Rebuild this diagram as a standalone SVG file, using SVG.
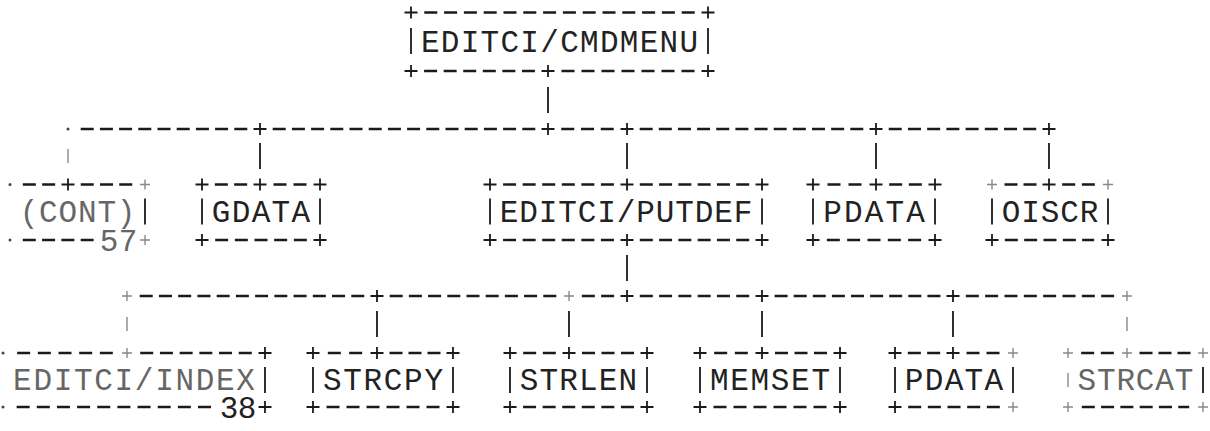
<svg xmlns="http://www.w3.org/2000/svg" width="1210" height="431" viewBox="0 0 1210 431">
<style>
.bg{fill:#fff}
.d{stroke:#1a1a1a;stroke-width:2.4;fill:none}
.p{stroke:#1a1a1a;stroke-width:1.8;fill:none}
.f{stroke:#888;stroke-width:1.4;fill:none}
.dot{fill:#444}
.t{font-family:"Liberation Mono","DejaVu Sans Mono",monospace;font-size:31px;fill:#222}
.tf{font-family:"Liberation Mono","DejaVu Sans Mono",monospace;font-size:31px;fill:#666}
</style>
<defs>
<path id="plus" class="p" d="M-6.5 0h13M0-6v12"/>
<path id="fplus" class="f" d="M-5 0h10M0-5v10"/>
<path id="bar" class="p" d="M0-13v26"/>
<path id="fbar" class="f" d="M0-7v14"/>
</defs>
<rect class="bg" width="1210" height="431"/>

<g id="node-cmdmenu">
<line class="d" x1="424.3" y1="12.5" x2="694.7" y2="12.5" stroke-dasharray="13 6.8"/>
<line class="d" x1="424.07" y1="71" x2="534.93" y2="71" stroke-dasharray="13 6.57"/>
<line class="d" x1="561.5" y1="71" x2="694.5" y2="71" stroke-dasharray="13 7"/>
<use href="#plus" x="411" y="12.5"/><use href="#plus" x="708" y="12.5"/>
<use href="#plus" x="411" y="71"/><use href="#plus" x="548" y="71"/><use href="#plus" x="708" y="71"/>
<use href="#bar" x="411" y="41"/><use href="#bar" x="708" y="41"/>
<text class="t" x="420.9" y="51.5" textLength="277.2" lengthAdjust="spacing">EDITCI/CMDMENU</text>
</g>

<g id="node-cont">
<circle class="dot" cx="10" cy="184.5" r="1.5"/>
<line class="d" x1="22.83" y1="184.5" x2="55.17" y2="184.5" stroke-dasharray="13 6.33"/>
<line class="d" x1="80.75" y1="184.5" x2="132.25" y2="184.5" stroke-dasharray="13 6.25"/>
<use href="#plus" x="68" y="184.5"/><use href="#fplus" x="145" y="184.5"/>
<use href="#bar" x="145" y="211.5"/>
<text class="tf" x="19.65" y="221.5" textLength="115.8" lengthAdjust="spacing">(CONT)</text>
<circle class="dot" cx="10" cy="240" r="1.5"/>
<line class="d" x1="22.79" y1="240" x2="93.66" y2="240" stroke-dasharray="13 6.29"/>
<text class="tf" x="109 128" y="250.5" text-anchor="middle">57</text>
<use href="#fplus" x="145" y="240"/>
</g>

<g id="node-gdata">
<line class="d" x1="214.83" y1="184.5" x2="247.17" y2="184.5" stroke-dasharray="13 6.33"/>
<line class="d" x1="273.5" y1="184.5" x2="306.5" y2="184.5" stroke-dasharray="13 7"/>
<use href="#plus" x="202" y="184.5"/><use href="#plus" x="260" y="184.5"/><use href="#plus" x="320" y="184.5"/>
<use href="#bar" x="202" y="211.5"/><use href="#bar" x="320" y="211.5"/>
<text class="t" x="211.8" y="221.5" textLength="98.3" lengthAdjust="spacing">GDATA</text>
<line class="d" x1="215.17" y1="240" x2="306.83" y2="240" stroke-dasharray="13 6.67"/>
<use href="#plus" x="202" y="240"/><use href="#plus" x="320" y="240"/>
</g>

<g id="node-putdef">
<line class="d" x1="503.07" y1="184.5" x2="613.93" y2="184.5" stroke-dasharray="13 6.57"/>
<line class="d" x1="639.79" y1="184.5" x2="749.21" y2="184.5" stroke-dasharray="13 6.29"/>
<use href="#plus" x="490" y="184.5"/><use href="#plus" x="627" y="184.5"/><use href="#plus" x="762" y="184.5"/>
<use href="#bar" x="490" y="211.5"/><use href="#bar" x="762" y="211.5"/>
<text class="t" x="499.7" y="221.5" textLength="252.6" lengthAdjust="spacing">EDITCI/PUTDEF</text>
<line class="d" x1="503.07" y1="240" x2="613.93" y2="240" stroke-dasharray="13 6.57"/>
<line class="d" x1="639.79" y1="240" x2="749.21" y2="240" stroke-dasharray="13 6.29"/>
<use href="#plus" x="490" y="240"/><use href="#plus" x="627" y="240"/><use href="#plus" x="762" y="240"/>
</g>

<g id="node-pdata-1">
<line class="d" x1="827.5" y1="184.5" x2="861.5" y2="184.5" stroke-dasharray="13 8"/>
<line class="d" x1="889.17" y1="184.5" x2="921.83" y2="184.5" stroke-dasharray="13 6.67"/>
<use href="#plus" x="813" y="184.5"/><use href="#plus" x="876" y="184.5"/><use href="#plus" x="935" y="184.5"/>
<use href="#bar" x="813" y="211.5"/><use href="#bar" x="935" y="211.5"/>
<text class="t" x="823.2" y="221.5" textLength="101.7" lengthAdjust="spacing">PDATA</text>
<line class="d" x1="826.83" y1="240" x2="921.17" y2="240" stroke-dasharray="13 7.33"/>
<use href="#plus" x="813" y="240"/><use href="#plus" x="935" y="240"/>
</g>

<g id="node-oiscr">
<line class="d" x1="1004.5" y1="184.5" x2="1036.5" y2="184.5" stroke-dasharray="13 6"/>
<line class="d" x1="1062.17" y1="184.5" x2="1094.83" y2="184.5" stroke-dasharray="13 6.67"/>
<use href="#fplus" x="992" y="184.5"/><use href="#plus" x="1049" y="184.5"/><use href="#fplus" x="1108" y="184.5"/>
<use href="#bar" x="992" y="211.5"/><use href="#bar" x="1108" y="211.5"/>
<text class="t" x="1001.7" y="221.5" textLength="96.7" lengthAdjust="spacing">OISCR</text>
<line class="d" x1="1004.83" y1="240" x2="1094.17" y2="240" stroke-dasharray="13 6.33"/>
<use href="#plus" x="992" y="240"/><use href="#plus" x="1108" y="240"/>
</g>

<g id="node-index">
<circle class="dot" cx="3" cy="353" r="1.5"/>
<line class="d" x1="17.17" y1="353" x2="112.83" y2="353" stroke-dasharray="13 7.67"/>
<line class="d" x1="140.21" y1="353" x2="251.79" y2="353" stroke-dasharray="13 6.71"/>
<use href="#fplus" x="127" y="353"/><use href="#plus" x="265" y="353"/>
<use href="#bar" x="265" y="380"/>
<text class="tf" x="13.1" y="390" textLength="241.8" lengthAdjust="spacing">EDITCI/INDEX</text>
<circle class="dot" cx="3" cy="407" r="1.5"/>
<line class="d" x1="16.65" y1="407" x2="211" y2="407" stroke-dasharray="13 7.15"/>
<text class="t" x="229 247" y="417.5" text-anchor="middle">38</text>
<use href="#plus" x="265" y="407"/>
</g>

<g id="node-strcpy">
<line class="d" x1="327.83" y1="353" x2="362.17" y2="353" stroke-dasharray="13 8.33"/>
<line class="d" x1="389.5" y1="353" x2="440.5" y2="353" stroke-dasharray="13 6"/>
<use href="#plus" x="313" y="353"/><use href="#plus" x="377" y="353"/><use href="#plus" x="453" y="353"/>
<use href="#bar" x="313" y="380"/><use href="#bar" x="453" y="380"/>
<text class="t" x="323" y="390" textLength="120" lengthAdjust="spacing">STRCPY</text>
<line class="d" x1="326.5" y1="407" x2="439.5" y2="407" stroke-dasharray="13 7"/>
<use href="#plus" x="313" y="407"/><use href="#plus" x="453" y="407"/>
</g>

<g id="node-strlen">
<line class="d" x1="523.17" y1="353" x2="555.83" y2="353" stroke-dasharray="13 6.67"/>
<line class="d" x1="582" y1="353" x2="634" y2="353" stroke-dasharray="13 6.5"/>
<use href="#plus" x="510" y="353"/><use href="#plus" x="569" y="353"/><use href="#plus" x="647" y="353"/>
<use href="#bar" x="510" y="380"/><use href="#bar" x="647" y="380"/>
<text class="t" x="519.8" y="390" textLength="117.4" lengthAdjust="spacing">STRLEN</text>
<line class="d" x1="523.07" y1="407" x2="633.93" y2="407" stroke-dasharray="13 6.57"/>
<use href="#plus" x="510" y="407"/><use href="#plus" x="647" y="407"/>
</g>

<g id="node-memset">
<line class="d" x1="714.17" y1="353" x2="747.83" y2="353" stroke-dasharray="13 7.67"/>
<line class="d" x1="775" y1="353" x2="827" y2="353" stroke-dasharray="13 6.5"/>
<use href="#plus" x="700" y="353"/><use href="#plus" x="762" y="353"/><use href="#plus" x="840" y="353"/>
<use href="#bar" x="700" y="380"/><use href="#bar" x="840" y="380"/>
<text class="t" x="710" y="390" textLength="120" lengthAdjust="spacing">MEMSET</text>
<line class="d" x1="713.5" y1="407" x2="826.5" y2="407" stroke-dasharray="13 7"/>
<use href="#plus" x="700" y="407"/><use href="#plus" x="840" y="407"/>
</g>

<g id="node-pdata-2">
<line class="d" x1="907.83" y1="353" x2="940.17" y2="353" stroke-dasharray="13 6.33"/>
<line class="d" x1="966.5" y1="353" x2="999.5" y2="353" stroke-dasharray="13 7"/>
<use href="#plus" x="895" y="353"/><use href="#plus" x="953" y="353"/><use href="#fplus" x="1013" y="353"/>
<use href="#bar" x="895" y="380"/><use href="#bar" x="1013" y="380"/>
<text class="t" x="904.8" y="390" textLength="98.3" lengthAdjust="spacing">PDATA</text>
<line class="d" x1="908.17" y1="407" x2="999.83" y2="407" stroke-dasharray="13 6.67"/>
<use href="#plus" x="895" y="407"/><use href="#fplus" x="1013" y="407"/>
</g>

<g id="node-strcat">
<line class="d" x1="1081.17" y1="353" x2="1113.83" y2="353" stroke-dasharray="13 6.67"/>
<line class="d" x1="1139.5" y1="353" x2="1190.5" y2="353" stroke-dasharray="13 6"/>
<use href="#fplus" x="1068" y="353"/><use href="#fplus" x="1127" y="353"/><use href="#fplus" x="1203" y="353"/>
<use href="#fbar" x="1068" y="380"/><use href="#bar" x="1203" y="380"/>
<text class="tf" x="1077.6" y="390" textLength="115.7" lengthAdjust="spacing">STRCAT</text>
<line class="d" x1="1081.79" y1="407" x2="1189.21" y2="407" stroke-dasharray="13 6.29"/>
<use href="#fplus" x="1068" y="407"/><use href="#fplus" x="1203" y="407"/>
</g>

<g id="connectors">
<use href="#bar" x="548" y="100"/>
<circle class="dot" cx="68" cy="129" r="1.5"/>
<line class="d" x1="80.7" y1="129" x2="247.3" y2="129" stroke-dasharray="13 6.2"/>
<line class="d" x1="272.7" y1="129" x2="535.3" y2="129" stroke-dasharray="13 6.2"/>
<line class="d" x1="561.25" y1="129" x2="613.75" y2="129" stroke-dasharray="13 6.75"/>
<line class="d" x1="639.65" y1="129" x2="863.35" y2="129" stroke-dasharray="13 6.15"/>
<line class="d" x1="888.72" y1="129" x2="1036.28" y2="129" stroke-dasharray="13 6.22"/>
<use href="#plus" x="260" y="129"/><use href="#plus" x="548" y="129"/><use href="#plus" x="627" y="129"/><use href="#plus" x="876" y="129"/><use href="#plus" x="1049" y="129"/>
<use href="#fbar" x="68" y="156"/>
<use href="#bar" x="260" y="156"/><use href="#bar" x="627" y="156"/><use href="#bar" x="876" y="156"/><use href="#bar" x="1049" y="156"/>
<use href="#bar" x="627" y="268"/>
<line class="d" x1="139.73" y1="296" x2="364.27" y2="296" stroke-dasharray="13 6.23"/>
<line class="d" x1="389.7" y1="296" x2="556.3" y2="296" stroke-dasharray="13 6.2"/>
<line class="d" x1="581.83" y1="296" x2="614.17" y2="296" stroke-dasharray="13 6.33"/>
<line class="d" x1="639.79" y1="296" x2="749.21" y2="296" stroke-dasharray="13 6.29"/>
<line class="d" x1="774.6" y1="296" x2="940.4" y2="296" stroke-dasharray="13 6.1"/>
<line class="d" x1="965.83" y1="296" x2="1114.17" y2="296" stroke-dasharray="13 6.33"/>
<use href="#fplus" x="127" y="296"/><use href="#plus" x="377" y="296"/><use href="#fplus" x="569" y="296"/><use href="#plus" x="627" y="296"/><use href="#plus" x="762" y="296"/><use href="#plus" x="953" y="296"/><use href="#fplus" x="1127" y="296"/>
<use href="#fbar" x="127" y="324"/>
<use href="#bar" x="377" y="324"/><use href="#bar" x="569" y="324"/><use href="#bar" x="762" y="324"/><use href="#bar" x="953" y="324"/><use href="#fbar" x="1127" y="324"/>
</g>
</svg>
